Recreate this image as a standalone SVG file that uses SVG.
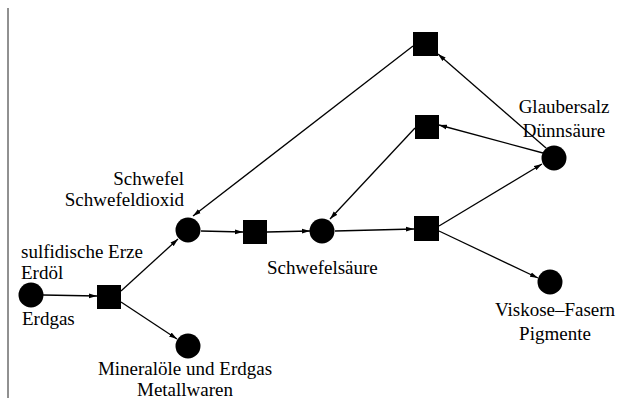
<svg xmlns="http://www.w3.org/2000/svg" width="617" height="405" viewBox="0 0 617 405">
<style>
.n{fill:#000}
.e{stroke:#000;stroke-width:1.3;fill:none;marker-end:url(#ah)}
text{font-family:"Liberation Serif","Times New Roman",serif;font-size:19px;fill:#000}
.c{text-anchor:middle}
.r{text-anchor:end}
</style>
<defs>
<marker id="ah" viewBox="0 0 8 6" refX="8" refY="3" markerWidth="8" markerHeight="6" markerUnits="userSpaceOnUse" orient="auto">
<path d="M0,0.6 L8,3 L0,5.4 z" fill="#000"/>
</marker>
</defs>
<rect width="617" height="405" fill="#fff"/>
<line x1="8" y1="8" x2="8" y2="398" stroke="#222" stroke-width="1"/>
<g id="connectors">
<line class="e" x1="43" y1="295" x2="97" y2="296"/>
<line class="e" x1="121" y1="291" x2="178" y2="239"/>
<line class="e" x1="121" y1="302" x2="177" y2="339"/>
<line class="e" x1="201" y1="231" x2="243" y2="232"/>
<line class="e" x1="267" y1="232" x2="310" y2="231"/>
<line class="e" x1="335" y1="231" x2="414" y2="229"/>
<line class="e" x1="439" y1="226" x2="542" y2="164"/>
<line class="e" x1="439" y1="231" x2="538" y2="278"/>
<line class="e" x1="543" y1="153" x2="439" y2="125"/>
<line class="e" x1="546" y1="148" x2="438" y2="54"/>
<line class="e" x1="413" y1="46" x2="193" y2="216"/>
<line class="e" x1="415" y1="128" x2="330" y2="219"/>
</g>
<g id="n1"><circle class="n" cx="31" cy="295" r="12.5"/>
<text x="21" y="258">sulfidische Erze</text>
<text x="21" y="279">Erdöl</text>
<text x="22" y="325">Erdgas</text></g>
<g id="s1"><rect class="n" x="97" y="285" width="24" height="24"/></g>
<g id="n2"><circle class="n" cx="188" cy="230" r="12.5"/>
<text class="r" x="184" y="185">Schwefel</text>
<text class="r" x="184" y="206">Schwefeldioxid</text></g>
<g id="n3"><circle class="n" cx="188" cy="346" r="12.5"/>
<text class="c" x="185" y="375">Mineralöle und Erdgas</text>
<text class="c" x="185" y="396">Metallwaren</text></g>
<g id="s2"><rect class="n" x="243" y="220" width="24" height="24"/></g>
<g id="n4"><circle class="n" cx="322" cy="231" r="12.5"/>
<text x="267" y="274">Schwefelsäure</text></g>
<g id="s3"><rect class="n" x="414" y="216" width="25" height="25"/></g>
<g id="s4"><rect class="n" x="413" y="32" width="25" height="24"/></g>
<g id="s5"><rect class="n" x="415" y="115" width="24" height="24"/></g>
<g id="n5"><circle class="n" cx="554" cy="158" r="12.5"/>
<text class="c" x="564" y="113">Glaubersalz</text>
<text class="c" x="564" y="137">Dünnsäure</text></g>
<g id="n6"><circle class="n" cx="550" cy="282" r="12.5"/>
<text class="c" x="555" y="316">Viskose–Fasern</text>
<text class="c" x="555" y="340">Pigmente</text></g>
</svg>
